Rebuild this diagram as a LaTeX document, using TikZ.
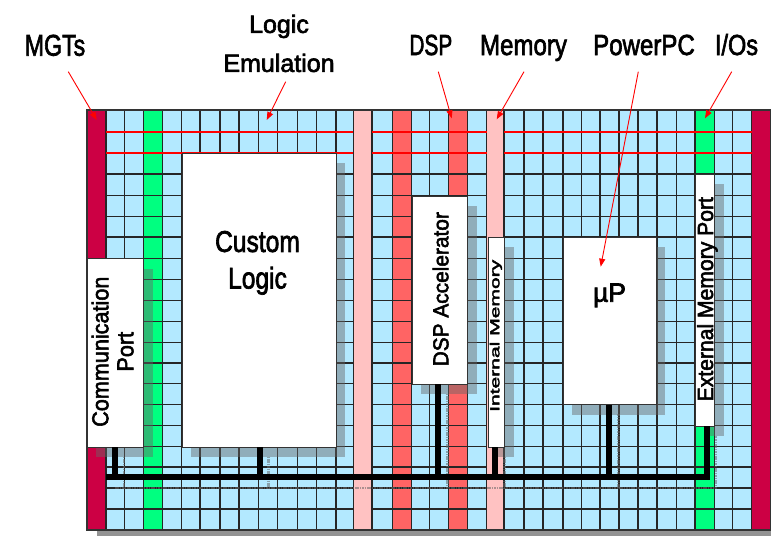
\documentclass[tikz,border=0pt]{standalone}
\usepackage{fontspec}
\usepackage{graphicx}
\setmainfont{Liberation Sans}[FakeBold=2.5]
\usetikzlibrary{arrows.meta,shadows}
\definecolor{cellblue}{HTML}{B3E9FF}
\definecolor{mgtred}{HTML}{CC0044}
\definecolor{dspred}{HTML}{FF6464}
\definecolor{mempink}{HTML}{FFC2C2}
\definecolor{iogreen}{HTML}{00FF80}
\newcommand{\fz}[2]{\fontsize{#1}{#2}\selectfont}
\begin{document}
\begin{tikzpicture}[x=1pt,y=-1pt,
  gridln/.style={line width=1.3pt, black!85},
  emu/.style={line width=1.2pt, red},
  block/.style={draw=black!80, line width=0.9pt, fill=white, inner sep=0pt, anchor=north west,
    drop shadow={shadow xshift=9pt, shadow yshift=-10pt, fill=gray!80!black, opacity=0.45}},
  bus/.style={line width=6pt, black},
  busshadow/.style={line width=2.4pt, gray!80!black, opacity=0.55, dash pattern=on 1.6pt off 0.8pt},
  callout/.style={red, line width=0.9pt, -{Triangle[length=8pt,width=6pt]}},
  lbl/.style={inner sep=0pt, anchor=base},
  txt/.style={inner sep=0pt},
  ]
\useasboundingbox (0,0) rectangle (771,536);
% chip drop shadow
\fill[gray!85] (97,530) rectangle (771,536);
% background cells
\fill[cellblue] (87,110) rectangle (771,530);
% coloured columns
\fill[iogreen] (143.3,110) rectangle (162.3,530);
\fill[iogreen] (695,110) rectangle (714.3,530);
\fill[dspred] (392.3,110) rectangle (411.7,530);
\fill[dspred] (448.3,110) rectangle (467.3,530);
\fill[mempink] (353.3,110) rectangle (372,530);
\fill[mempink] (486.7,110) rectangle (504,530);
% horizontal grid lines
\foreach \y in {132,153,174,195.5,216.5,237,258.3,279.5,300.5,321.5,342.5,363,383.5,404.3,425.5,446.5,467,488,509}{
  \draw[gridln] (106,\y) -- (353.3,\y);
  \draw[gridln] (372,\y) -- (486.7,\y);
  \draw[gridln] (504,\y) -- (751.5,\y);
}
% vertical grid lines
\foreach \x in {106,124.3,143.3,162.3,181.7,200,220,239,258.3,277.7,297.3,316.7,336,353.3,372,392.3,411.7,429.3,448.3,467.3,486.7,504,524,543,563,581.7,600,619,638,657,676.7,695,714.3,732.7,751.5}{
  \draw[gridln] (\x,110) -- (\x,530);
}
% MGT columns
\filldraw[fill=mgtred, draw=black!85, line width=1.2pt] (87,110) rectangle (106,530);
\filldraw[fill=mgtred, draw=black!85, line width=1.2pt] (751.5,110) rectangle (771,530);
% logic emulation long lines
\foreach \y in {132,153}{
  \draw[emu] (106,\y) -- (353.3,\y);
  \draw[emu] (372,\y) -- (486.7,\y);
  \draw[emu] (504,\y) -- (751.5,\y);
}
% chip outline
\draw[line width=1.4pt, black!80] (87,110) rectangle (771,530);

% bus shadow
\coordinate (sL) at (115,488);
\coordinate (s1) at (124,488);
\coordinate (s2) at (268.5,488);
\coordinate (s3) at (447.3,488);
\coordinate (s4) at (504.3,488);
\coordinate (s5) at (618.3,488);
\coordinate (s6) at (715.7,488);
\coordinate (s1t) at (124,456.5);
\coordinate (s2t) at (268.5,456.5);
\coordinate (s3t) at (447.3,393.5);
\coordinate (s4t) at (504.3,456.5);
\coordinate (s5t) at (618.3,414.3);
\coordinate (s6t) at (715.7,435.5);
\draw[busshadow] (sL) -- (s6) -- (s6t);
\foreach \i in {1,...,5}{\draw[busshadow] (s\i t) -- (s\i);}

% blocks
\node[block, minimum width=56.3pt, minimum height=188.2pt] (cp) at (87,258.3) {};
\node[block, minimum width=154.3pt, minimum height=293.5pt] (cl) at (181.7,153) {};
\node[block, minimum width=55.6pt, minimum height=188pt] (da) at (411.7,195.5) {};
\node[block, minimum width=16.8pt, minimum height=209.5pt] (im) at (487.5,237) {};
\node[block, minimum width=93pt, minimum height=167.3pt] (up) at (563,237) {};
\node[block, minimum width=19.3pt, minimum height=251.5pt] (ep) at (695,174) {};

% bus
\coordinate (busL) at (106,476.7);
\coordinate (j1) at (115,476.7);
\coordinate (j2) at (259.5,476.7);
\coordinate (j3) at (438.3,476.7);
\coordinate (j4) at (495.3,476.7);
\coordinate (j5) at (609.3,476.7);
\coordinate (j6) at (706.7,476.7);
\draw[bus] (cp.south -| j1) -- (j1);
\draw[bus] (cl.south -| j2) -- (j2);
\draw[bus] (da.south -| j3) -- (j3);
\draw[bus] (im.south -| j4) -- (j4);
\draw[bus] (up.south -| j5) -- (j5);
\draw[bus, line join=miter] (busL) -- (j6) -- (ep.south -| j6);

% block texts
\node[txt, rotate=90] (tcp) at (115.8,351.7)
  {\fz{23}{25}\scalebox{0.94}[1]{\begin{tabular}{@{}c@{}}Communication\\Port\end{tabular}}};
\node[txt, anchor=north] (tcl) at (257.5,226.1)
  {\fz{30}{36.6}\scalebox{0.82}[1]{\begin{tabular}{@{}c@{}}Custom\\Logic\end{tabular}}};
\node[txt, rotate=90, anchor=base] (tda) at (448.3,289.2) {\fz{21.5}{26}\scalebox{0.97}[1]{DSP Accelerator}};
\node[txt, rotate=90, anchor=base] (tim) at (499.3,335.8) {\fz{13}{16}\scalebox{1.62}[1]{Internal Memory}};
\node[txt, rotate=90, anchor=base] (tep) at (713,299.2) {\fz{22}{26}\scalebox{0.96}[1]{External Memory Port}};
\node[lbl] (tup) at (609.5,301.7) {\fz{26.5}{30}µP};

% top labels
\node[lbl] (lmgt) at (55,55.7) {\fz{30}{36}\scalebox{0.77}[1]{MGTs}};
\node[txt, anchor=north] (lemu) at (279,5.4)
  {\fz{25}{39}\begin{tabular}{@{}c@{}}Logic\\Emulation\end{tabular}};
\node[lbl] (ldsp) at (430.8,55) {\fz{29}{34}\scalebox{0.72}[1]{DSP}};
\node[lbl] (lmem) at (523.5,55) {\fz{29}{34}\scalebox{0.83}[1]{Memory}};
\node[lbl] (lppc) at (644,55) {\fz{29}{34}\scalebox{0.83}[1]{PowerPC}};
\node[lbl] (lio) at (736.5,55) {\fz{29}{34}\scalebox{0.81}[1]{I/Os}};

% callout arrows
\coordinate (a1s) at (68.3,71.7);  \coordinate (a1t) at (96.7,120);
\coordinate (a2s) at (285.7,81.7); \coordinate (a2t) at (266.7,120);
\coordinate (a3s) at (438.3,71.7); \coordinate (a3t) at (451.7,118.3);
\coordinate (a4s) at (524,71.7);   \coordinate (a4t) at (496.7,119.3);
\coordinate (a5s) at (638.3,71.7); \coordinate (a5t) at (600.7,266.7);
\coordinate (a6s) at (731.7,71.7); \coordinate (a6t) at (705,118.3);
\foreach \i in {1,...,6}{\draw[callout] (a\i s) -- (a\i t);}
\end{tikzpicture}
\end{document}
